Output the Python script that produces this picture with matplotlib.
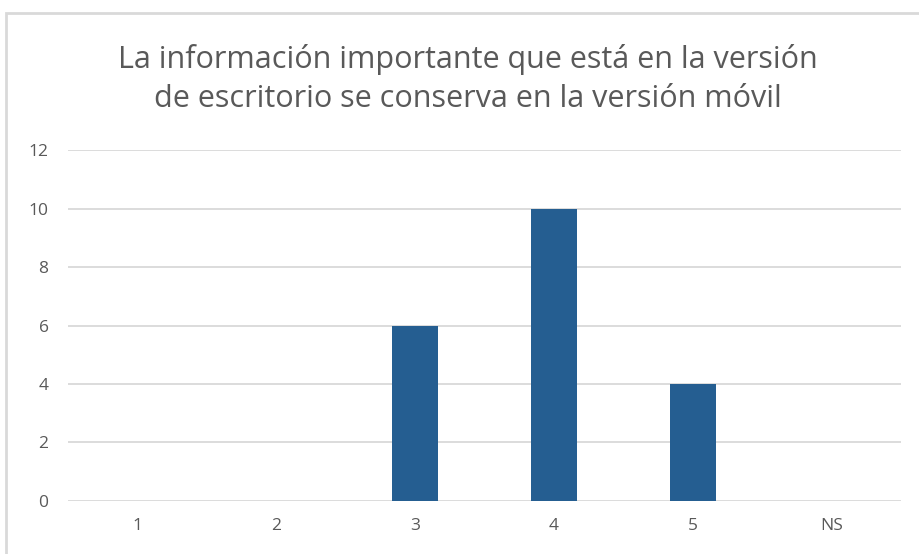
import matplotlib.pyplot as plt
from matplotlib.patches import Rectangle

categories = ["1", "2", "3", "4", "5", "NS"]
counts = [0, 0, 6, 10, 4, 0]
yticks = [0, 2, 4, 6, 8, 10, 12]

title = ("La información importante que está en la versión\n"
         "de escritorio se conserva en la versión móvil")

plt.rcParams['font.family'] = ['Open Sans', 'DejaVu Sans']
text_col = "#595959"

fig = plt.figure(figsize=(9.19, 5.54), dpi=100)
ax = fig.add_axes([0.074, 0.0957, 0.9064, 0.6335])

# chart area outline (only top/left fall inside the frame)
fig.patches.append(Rectangle((6 / 919, -0.1), 1.2, 1 - 13 / 554 + 0.1,
                             transform=fig.transFigure, fill=False,
                             edgecolor="#d9d9d9", linewidth=2))

x = list(range(len(categories)))
ax.bar(x, counts, width=0.33, color="#255e91", zorder=3)

ax.set_xlim(-0.5, len(categories) - 0.5)
ax.set_ylim(0, 12)
ax.set_yticks(yticks)
ax.set_xticks(x)
ax.set_xticklabels(categories)
ax.grid(axis="y", color="#d9d9d9", linewidth=1.3, zorder=0)
for s in ax.spines.values():
    s.set_visible(False)
ax.tick_params(length=0, colors=text_col, labelsize=12.5)
ax.tick_params(axis="y", pad=14)
ax.tick_params(axis="x", pad=12)

fig.text(468 / 919, 1 - 79 / 554, title, ha="center", va="center",
         fontsize=22, color=text_col, linespacing=1.35)

fig.savefig("out.png", dpi=100)
